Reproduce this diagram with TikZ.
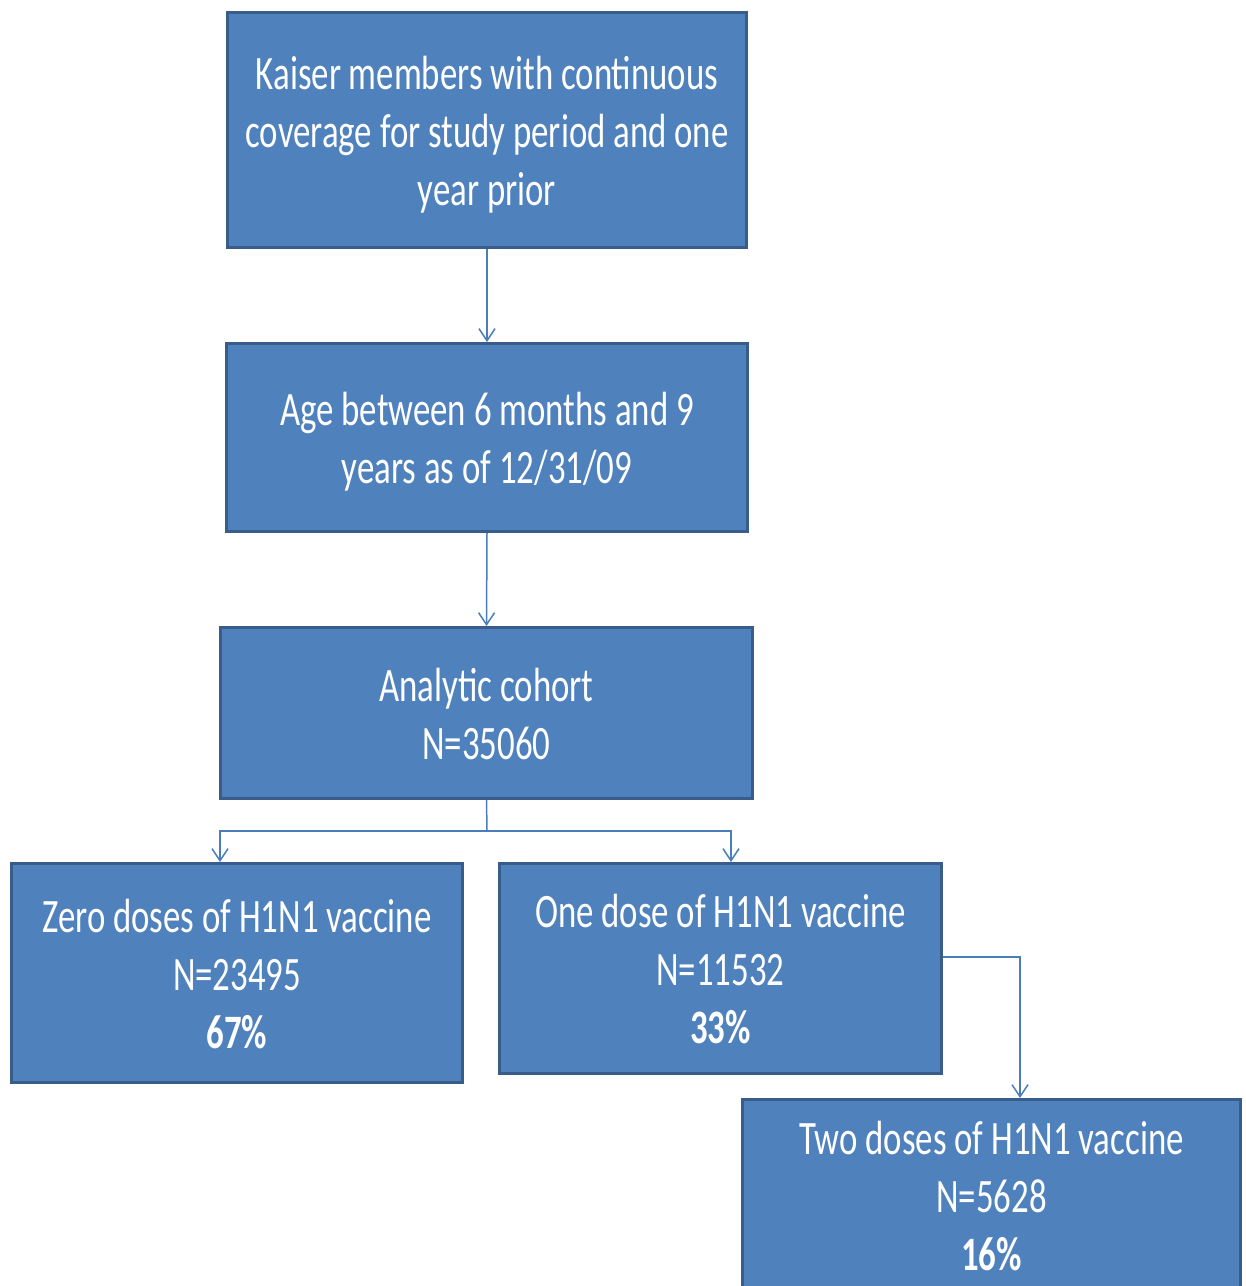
\documentclass[tikz,border=0pt]{standalone}
\usepackage{fontspec}
\setmainfont[FakeStretch=0.725]{Carlito}
\usetikzlibrary{arrows.meta}
\definecolor{boxfill}{HTML}{4F81BD}
\definecolor{boxline}{HTML}{385D8A}
\definecolor{conn}{HTML}{4A7EBB}
\tikzset{
  flowbox/.style={draw=boxline, line width=3pt, fill=boxfill, inner sep=0pt},
  flowtext/.style={text=white, align=center, inner sep=0pt, font=\fontsize{48}{58}\selectfont},
  flowarrow/.style={draw=conn, line width=1.5pt, -{Straight Barb[length=12pt,width=16pt,line width=1.5pt]}},
  flowline/.style={draw=conn, line width=1.5pt}
}
\begin{document}
\begin{tikzpicture}[x=1pt,y=-1pt]
\useasboundingbox (0,0) rectangle (1246,1286);
\begin{scope}
\clip (0,0) rectangle (1246,1286);
\node[flowbox, minimum width=519pt, minimum height=235pt,
  label={[flowtext, yshift=-5pt]center:{Kaiser members with continuous\\coverage for study period and one\\year prior}}] (a) at (487,130) {};
\node[flowbox, minimum width=521pt, minimum height=188pt,
  label={[flowtext, yshift=-4pt]center:{Age between 6 months and 9\\years as of 12/31/09}}] (b) at (487,437.5) {};
\node[flowbox, minimum width=532pt, minimum height=171pt,
  label={[flowtext, yshift=-1pt]center:{Analytic cohort\\N=35060}}] (c) at (486.5,713) {};
\node[flowbox, minimum width=451pt, minimum height=219pt,
  label={[flowtext, yshift=-1pt]center:{Zero doses of H1N1 vaccine\\N=23495\\\textbf{67\%}}}] (d) at (237,973) {};
\node[flowbox, minimum width=442pt, minimum height=210pt,
  label={[flowtext, yshift=-1pt]center:{One dose of H1N1 vaccine\\N=11532\\\textbf{33\%}}}] (e) at (720.5,968.5) {};
\node[flowbox, minimum width=498pt, minimum height=193pt,
  label={[flowtext]center:{Two doses of H1N1 vaccine\\N=5628\\\textbf{16\%}}}] (f) at (991.5,1196) {};
\end{scope}
\coordinate (split) at (487,831);
\draw[flowarrow] (a.south) -- (b.north);
\draw[flowarrow] (b.south) -- (c.north);
\draw[flowline] (c.south) -- (split);
\draw[flowarrow] (split) -| ([xshift=-17pt]d.north);
\draw[flowarrow] (split) -| ([xshift=10.5pt]e.north);
\draw[flowarrow] (e.east |- 0,957) -| ([xshift=28.5pt]f.north);
\end{tikzpicture}
\end{document}
